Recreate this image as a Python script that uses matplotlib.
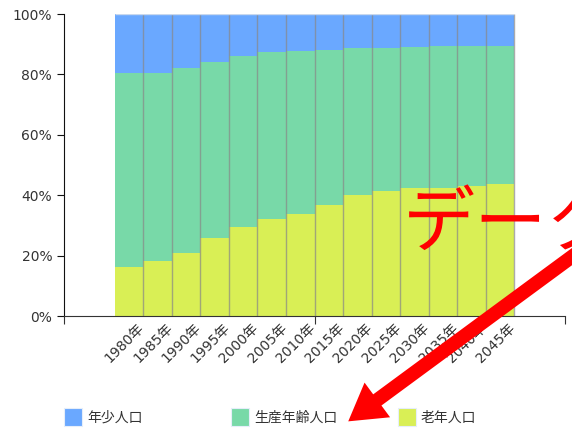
import numpy as np
import matplotlib
matplotlib.use("Agg")
import matplotlib.pyplot as plt
from matplotlib.patches import Rectangle, FancyArrowPatch
from matplotlib.transforms import ScaledTranslation

plt.rcParams['font.family'] = ['DejaVu Sans', 'Noto Sans CJK JP']

# 年齢3区分別人口の構成比 (%)
years = ['1980年', '1985年', '1990年', '1995年', '2000年', '2005年', '2010年',
         '2015年', '2020年', '2025年', '2030年', '2035年', '2040年', '2045年']
elderly = [16.3, 18.2, 20.9, 25.7, 29.5, 32.0, 33.7, 36.8, 40.1, 41.5, 42.3, 42.5, 43.0, 43.8]
working = [64.2, 62.3, 61.1, 58.5, 56.7, 55.3, 54.0, 51.4, 48.5, 47.4, 46.8, 46.8, 46.3, 45.6]
young = [19.5, 19.5, 18.0, 15.8, 13.8, 12.7, 12.3, 11.8, 11.4, 11.1, 10.9, 10.7, 10.7, 10.6]
series_names = ['年少人口', '生産年齢人口', '老年人口']
colors = ['#6aa8ff', '#78d9a8', '#d9ef55']

W, H = 572, 433
fig = plt.figure(figsize=(W / 100, H / 100), dpi=100)
ax = fig.add_axes([64 / W, 1 - 316 / H, (565 - 64) / W, (316 - 14) / H])

x = np.arange(len(years))
ax.bar(x, elderly, width=1.0, color=colors[2], linewidth=0)
ax.bar(x, working, width=1.0, bottom=elderly, color=colors[1], linewidth=0)
ax.bar(x, young, width=1.0, bottom=np.add(elderly, working), color=colors[0], linewidth=0)
# 棒の境界線
ax.vlines(x + 0.5, 0, 100, color='#888888', alpha=0.7, lw=1.0)
ax.hlines(100, -0.5, len(x) - 0.5, color='#c8d8ee', lw=1.0)

pad = 1.785
xmin, xmax = -0.5 - pad, len(x) - 0.5 + pad
ax.set_xlim(xmin, xmax)
ax.set_ylim(0, 100)

ax.set_xticks([xmin, (xmin + xmax) / 2, xmax])
ax.set_xticklabels([])
ax.tick_params(axis='x', length=6, direction='out', color='#333333')

# 年の目盛りラベル (斜め)
lab_trans = ax.get_xaxis_transform() + ScaledTranslation(0.08, -0.05, fig.dpi_scale_trans)
for xi, yr in zip(x, years):
    ax.text(xi, 0, yr, transform=lab_trans, rotation=45, ha='right', va='top',
            rotation_mode='anchor', fontsize=10, color='#333333')

ax.set_yticks(np.arange(0, 101, 20))
ax.set_yticklabels([f'{v}%' for v in range(0, 101, 20)], fontsize=10, color='#333333')
ax.tick_params(axis='y', length=5, direction='out', color='#111111')

for s in ['top', 'right']:
    ax.spines[s].set_visible(False)
ax.spines['left'].set_color('#111111')
ax.spines['bottom'].set_color('#333333')

# 凡例
for i, (name, c) in enumerate(zip(series_names, colors)):
    x0 = 64 + 167 * i
    fig.add_artist(Rectangle((x0 / W, 1 - 426 / H), 18 / W, 18 / H,
                             transform=fig.transFigure, facecolor=c,
                             edgecolor='#e6eefa', lw=0.8))
    fig.text((x0 + 23) / W, 1 - 417.5 / H, name, fontsize=10, color='#333333',
             va='center', ha='left', family=['Noto Sans CJK JP', 'DejaVu Sans'])

# 注記
fig.text(403 / W, 1 - 246 / H, 'データ', fontsize=52, color='#ff0000',
         fontweight='normal', ha='left', va='baseline', family=['Noto Sans CJK JP'])
arrow = FancyArrowPatch((600 / W, 1 - 236 / H), (346 / W, 1 - 423 / H),
                        transform=fig.transFigure,
                        arrowstyle='simple,head_length=26,head_width=31,tail_width=10',
                        mutation_scale=1, color='#ff0000', lw=0)
fig.add_artist(arrow)

fig.savefig('out.png', dpi=100)
